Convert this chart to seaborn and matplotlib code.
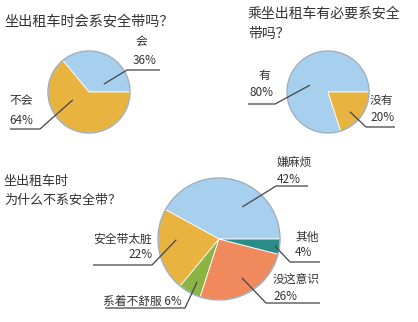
import numpy as np
import matplotlib
matplotlib.use("Agg")
import matplotlib.pyplot as plt
import seaborn as sns
from matplotlib.patches import Circle

# ---------------- data ----------------
q1_labels = ["会", "不会"]
q1_values = [36, 64]

q2_labels = ["有", "没有"]
q2_values = [80, 20]

q3_labels = ["嫌麻烦", "安全带太脏", "系着不舒服", "没这意识", "其他"]
q3_values = [42, 22, 6, 26, 4]

titles = ["坐出租车时会系安全带吗？",
          "乘坐出租车有必要系安全\n带吗？",
          "坐出租车时\n为什么不系安全带？"]

# ---------------- style ----------------
sns.set_theme(style="white")
plt.rcParams["font.family"] = ["Noto Sans CJK SC", "DejaVu Sans"]

BLUE = "#A7CFEE"
ORANGE = "#E8B33E"
GREEN = "#8BB443"
SALMON = "#F08A5D"
TEAL = "#2A8C88"
TXT = "#333333"
LINE = "#444444"

W, H = 418, 322
fig = plt.figure(figsize=(W / 100, H / 100), dpi=100)
ax = fig.add_axes([0, 0, 1, 1])


def P(x, y):
    return (x, H - y)


def draw_pie(values, colors, cx, cy, r):
    ax.pie(values, colors=colors, startangle=0, counterclock=True,
           center=P(cx, cy), radius=r,
           wedgeprops=dict(edgecolor="white", linewidth=0.6))
    ax.add_patch(Circle(P(cx, cy), r, fill=False, edgecolor="#9aaebf", lw=1.0, zorder=5))


def leader(cx, cy, r, ang, frac, elbow, end):
    a = np.deg2rad(ang)
    x0 = cx + frac * r * np.cos(a)
    y0 = cy - frac * r * np.sin(a)
    xs = [x0, elbow[0], end[0]]
    ys = [H - y0, H - elbow[1], H - end[1]]
    ax.plot(xs, ys, color=LINE, lw=0.9, zorder=6, solid_capstyle="butt")


def label(lines, fs=8.5):
    for (s, x, y) in lines:
        ax.text(*P(x, y), s, fontsize=fs, color=TXT, ha="left", va="center", zorder=7)


# ---------------- pie 1 ----------------
c1 = (89, 92, 41)
draw_pie(q1_values, [BLUE, ORANGE], *c1)
leader(*c1, 28, 0.41, (127, 70), (160, 70))
label([(q1_labels[0], 135, 42), (f"{q1_values[0]}%", 133, 60)])
leader(*c1, 206, 0.44, (40, 129), (10, 129))
label([(q1_labels[1], 9, 100), (f"{q1_values[1]}%", 9, 120)])

# ---------------- pie 2 ----------------
c2 = (328, 92, 41)
draw_pie(q2_values, [BLUE, ORANGE], *c2)
leader(*c2, 159, 0.47, (275, 104), (248, 104))
label([(q2_labels[0], 259, 75), (f"{q2_values[0]}%", 250, 92)])
leader(*c2, -42, 0.72, (366, 127), (395, 127))
label([(q2_labels[1], 370, 100), (f"{q2_values[1]}%", 370, 117)])

# ---------------- pie 3 ----------------
c3 = (219, 239, 61)
draw_pie(q3_values, [BLUE, ORANGE, GREEN, SALMON, TEAL], *c3)
leader(*c3, 54, 0.65, (276, 186), (308, 186))
label([(q3_labels[0], 277, 162), (f"{q3_values[0]}%", 277, 179)])
leader(*c3, -7, 0.92, (290, 262), (320, 262))
label([(q3_labels[4], 295, 237), (f"{q3_values[4]}%", 295, 253)])
leader(*c3, -59.5, 0.74, (266, 303), (320, 303))
label([(q3_labels[3], 273, 280), (f"{q3_values[3]}%", 273, 297)])
leader(*c3, 181, 0.70, (152, 265), (93, 265))
label([(q3_labels[1], 93, 239), (f"{q3_values[1]}%", 128, 255)])
leader(*c3, 243, 0.79, (185, 308), (105, 308))
label([(f"{q3_labels[2]} {q3_values[2]}%", 103, 301)])

# ---------------- titles ----------------
ax.text(*P(4, 22), titles[0], fontsize=10.2, color=TXT, ha="left", va="center")
ax.text(*P(248, 7), titles[1], fontsize=10.0, color=TXT, ha="left", va="top", linespacing=1.5)
ax.text(*P(4, 175), titles[2], fontsize=9.4, color=TXT, ha="left", va="top", linespacing=1.6)

ax.set_xlim(0, W)
ax.set_ylim(0, H)
ax.set_aspect("equal")
ax.axis("off")

fig.savefig("out.png", dpi=100, facecolor="white")
